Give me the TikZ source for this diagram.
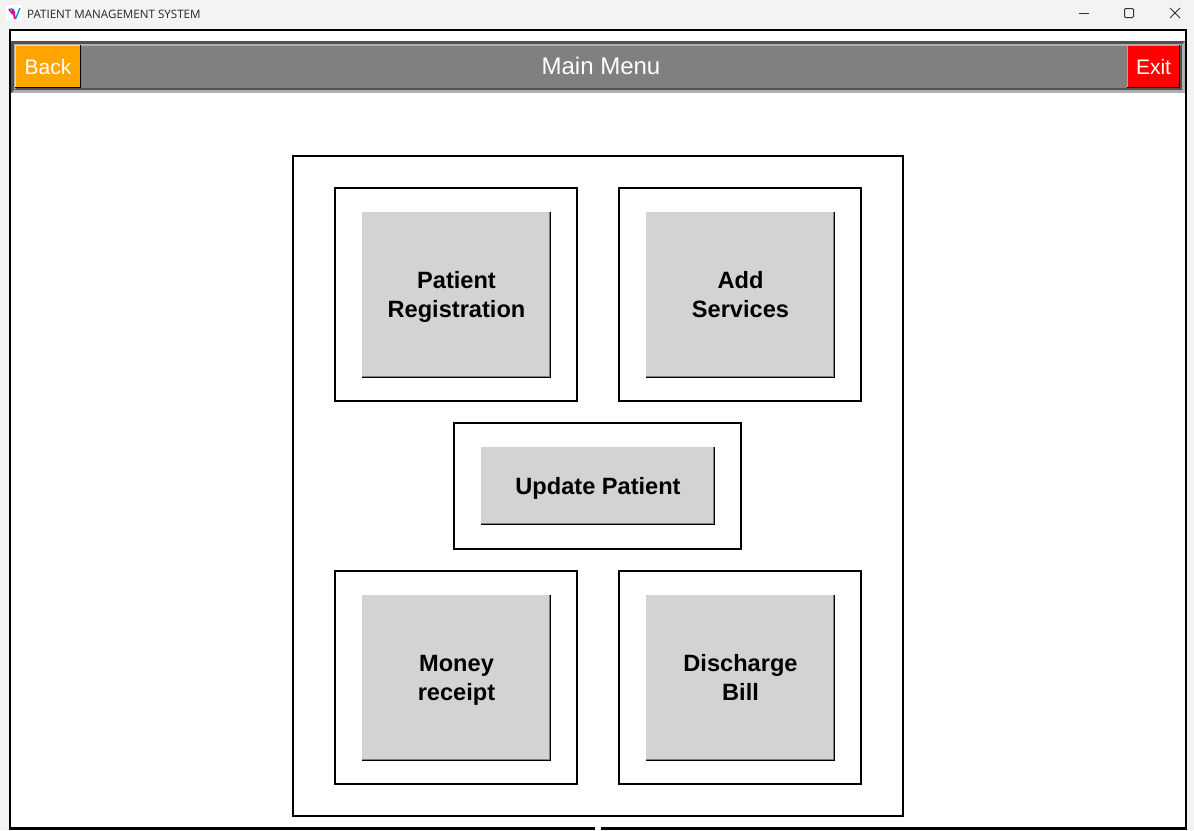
\documentclass[tikz,border=0pt]{standalone}
\usepackage{fontspec}
\setmainfont{Liberation Sans}
\newfontfamily\titlefont{Open Sans}
\definecolor{chrome}{HTML}{F3F3F3}
\definecolor{barGray}{HTML}{808080}
\definecolor{barDark}{HTML}{505050}
\definecolor{barLight}{HTML}{B0B0B0}
\definecolor{btnGray}{HTML}{D3D3D3}
\definecolor{btnEdge}{HTML}{808080}
\definecolor{backOrange}{HTML}{FFA500}
\newcommand{\btnstrut}{\rule{0pt}{23.5pt}}
\tikzset{
	menuframe/.style={draw=black, line width=2pt, fill=white, inner sep=0pt, outer sep=0pt},
	menubtn/.style={fill=btnGray, inner sep=0pt, outer sep=0pt, align=center, font=\fontsize{23.6}{29}\selectfont\bfseries, execute at end node={\rule[-7pt]{0pt}{7pt}}},
	barbtn/.style={inner sep=0pt, outer sep=0pt, text=white, font=\fontsize{21}{25}\selectfont},
}
\begin{document}
\begin{tikzpicture}[x=1pt,y=-1pt]
	\useasboundingbox (0,0) rectangle (1194,830);
	\fill[chrome] (0,0) rectangle (1194,830);

	% title bar of the window
	\fill[white] (6,5) rectangle (22,21);
	\draw[cyan!80!blue, line width=1.4pt] (11,8) -- (15,13) (20,8) -- (15.5,19);
	\draw[magenta, line width=2pt] (9,9) -- (13,14) (13,9) -- (15,19);
	\node[anchor=west, inner sep=0pt, font=\titlefont\fontsize{11.6}{14}\selectfont, text=black!85] (appTitle) at (27,14) {PATIENT MANAGEMENT SYSTEM};
	\draw[black!80, line width=1pt] (1079,13.5) -- (1089,13.5);
	\draw[black!80, line width=1pt, rounded corners=1pt] (1124.5,8.5) rectangle (1133.5,17.5);
	\draw[black!80, line width=1pt] (1170,8) -- (1180,18) (1180,8) -- (1170,18);

	% window
	\draw[black, line width=2pt, fill=white] (10,30) rectangle (1186,828);
	\fill[black] (9,827) rectangle (1187,830);
	\fill[white] (595,827) rectangle (601,830);

	% header bar
	\fill[barLight] (11,41) rectangle (1185,93);
	\fill[barDark] (11,41) -- (1185,41) -- (1182,44) -- (14,44) -- (14,90) -- (11,93) -- cycle;
	\fill[barDark] (14,44) rectangle (1182,90);
	\fill[barLight] (14,44) -- (1182,44) -- (1180,46) -- (16,46) -- (16,88) -- (14,90) -- cycle;
	\fill[barGray] (16,46) rectangle (1180,88);
	\node[inner sep=0pt, text=white, font=\fontsize{24}{28}\selectfont] (mainTitle) at (601,65.5) {Main Menu};
	\node[barbtn, fill=backOrange, minimum width=66pt, minimum height=43pt] (backBtn) at (48,66.5) {Back};
	\node[barbtn, fill=red, minimum width=53pt, minimum height=43pt] (exitBtn) at (1153.5,66.5) {Exit};
	\draw[backOrange!45!white, line width=1pt] ([xshift=.5pt]backBtn.south west) -- ([xshift=.5pt,yshift=-.5pt]backBtn.north west) -- ([yshift=-.5pt]backBtn.north east);
	\draw[red!50!white, line width=1pt] ([xshift=.5pt]exitBtn.south west) -- ([xshift=.5pt,yshift=-.5pt]exitBtn.north west) -- ([yshift=-.5pt]exitBtn.north east);
	\foreach \b in {backBtn,exitBtn} {
		\draw[black, line width=1pt] ([yshift=.5pt]\b.south west) -- ([xshift=-.5pt,yshift=.5pt]\b.south east) -- ([xshift=-.5pt]\b.north east);
	};

	% menu frames
	\node[menuframe, minimum width=610pt, minimum height=660pt] (mainFrame) at (598,486) {};
	\node[menuframe, minimum width=242pt, minimum height=213pt] (regFrame) at (456,294.5) {};
	\node[menuframe, minimum width=242pt, minimum height=213pt] (addFrame) at (740,294.5) {};
	\node[menuframe, minimum width=287pt, minimum height=126pt] (updFrame) at (597.5,486) {};
	\node[menuframe, minimum width=242pt, minimum height=213pt] (monFrame) at (456,677.5) {};
	\node[menuframe, minimum width=242pt, minimum height=213pt] (disFrame) at (740,677.5) {};

	% menu buttons
	\node[menubtn, minimum width=189pt, minimum height=166pt] (regBtn) at (456.5,295) {\btnstrut Patient\\Registration};
	\node[menubtn, minimum width=189pt, minimum height=166pt] (addBtn) at (740.5,295) {\btnstrut Add\\Services};
	\node[menubtn, minimum width=234pt, minimum height=78pt] (updBtn) at (598,486) {\btnstrut Update Patient};
	\node[menubtn, minimum width=189pt, minimum height=166pt] (monBtn) at (456.5,678) {\btnstrut Money\\receipt};
	\node[menubtn, minimum width=189pt, minimum height=166pt] (disBtn) at (740.5,678) {\btnstrut Discharge\\Bill};
	\foreach \b in {regBtn,addBtn,updBtn,monBtn,disBtn} {
		\draw[btnEdge, line width=1pt] ([yshift=1.5pt]\b.south west) -- ([xshift=-1.5pt,yshift=1.5pt]\b.south east) -- ([xshift=-1.5pt]\b.north east);
		\draw[black, line width=1pt] ([yshift=.5pt]\b.south west) -- ([xshift=-.5pt,yshift=.5pt]\b.south east) -- ([xshift=-.5pt]\b.north east);
	};
\end{tikzpicture}
\end{document}
